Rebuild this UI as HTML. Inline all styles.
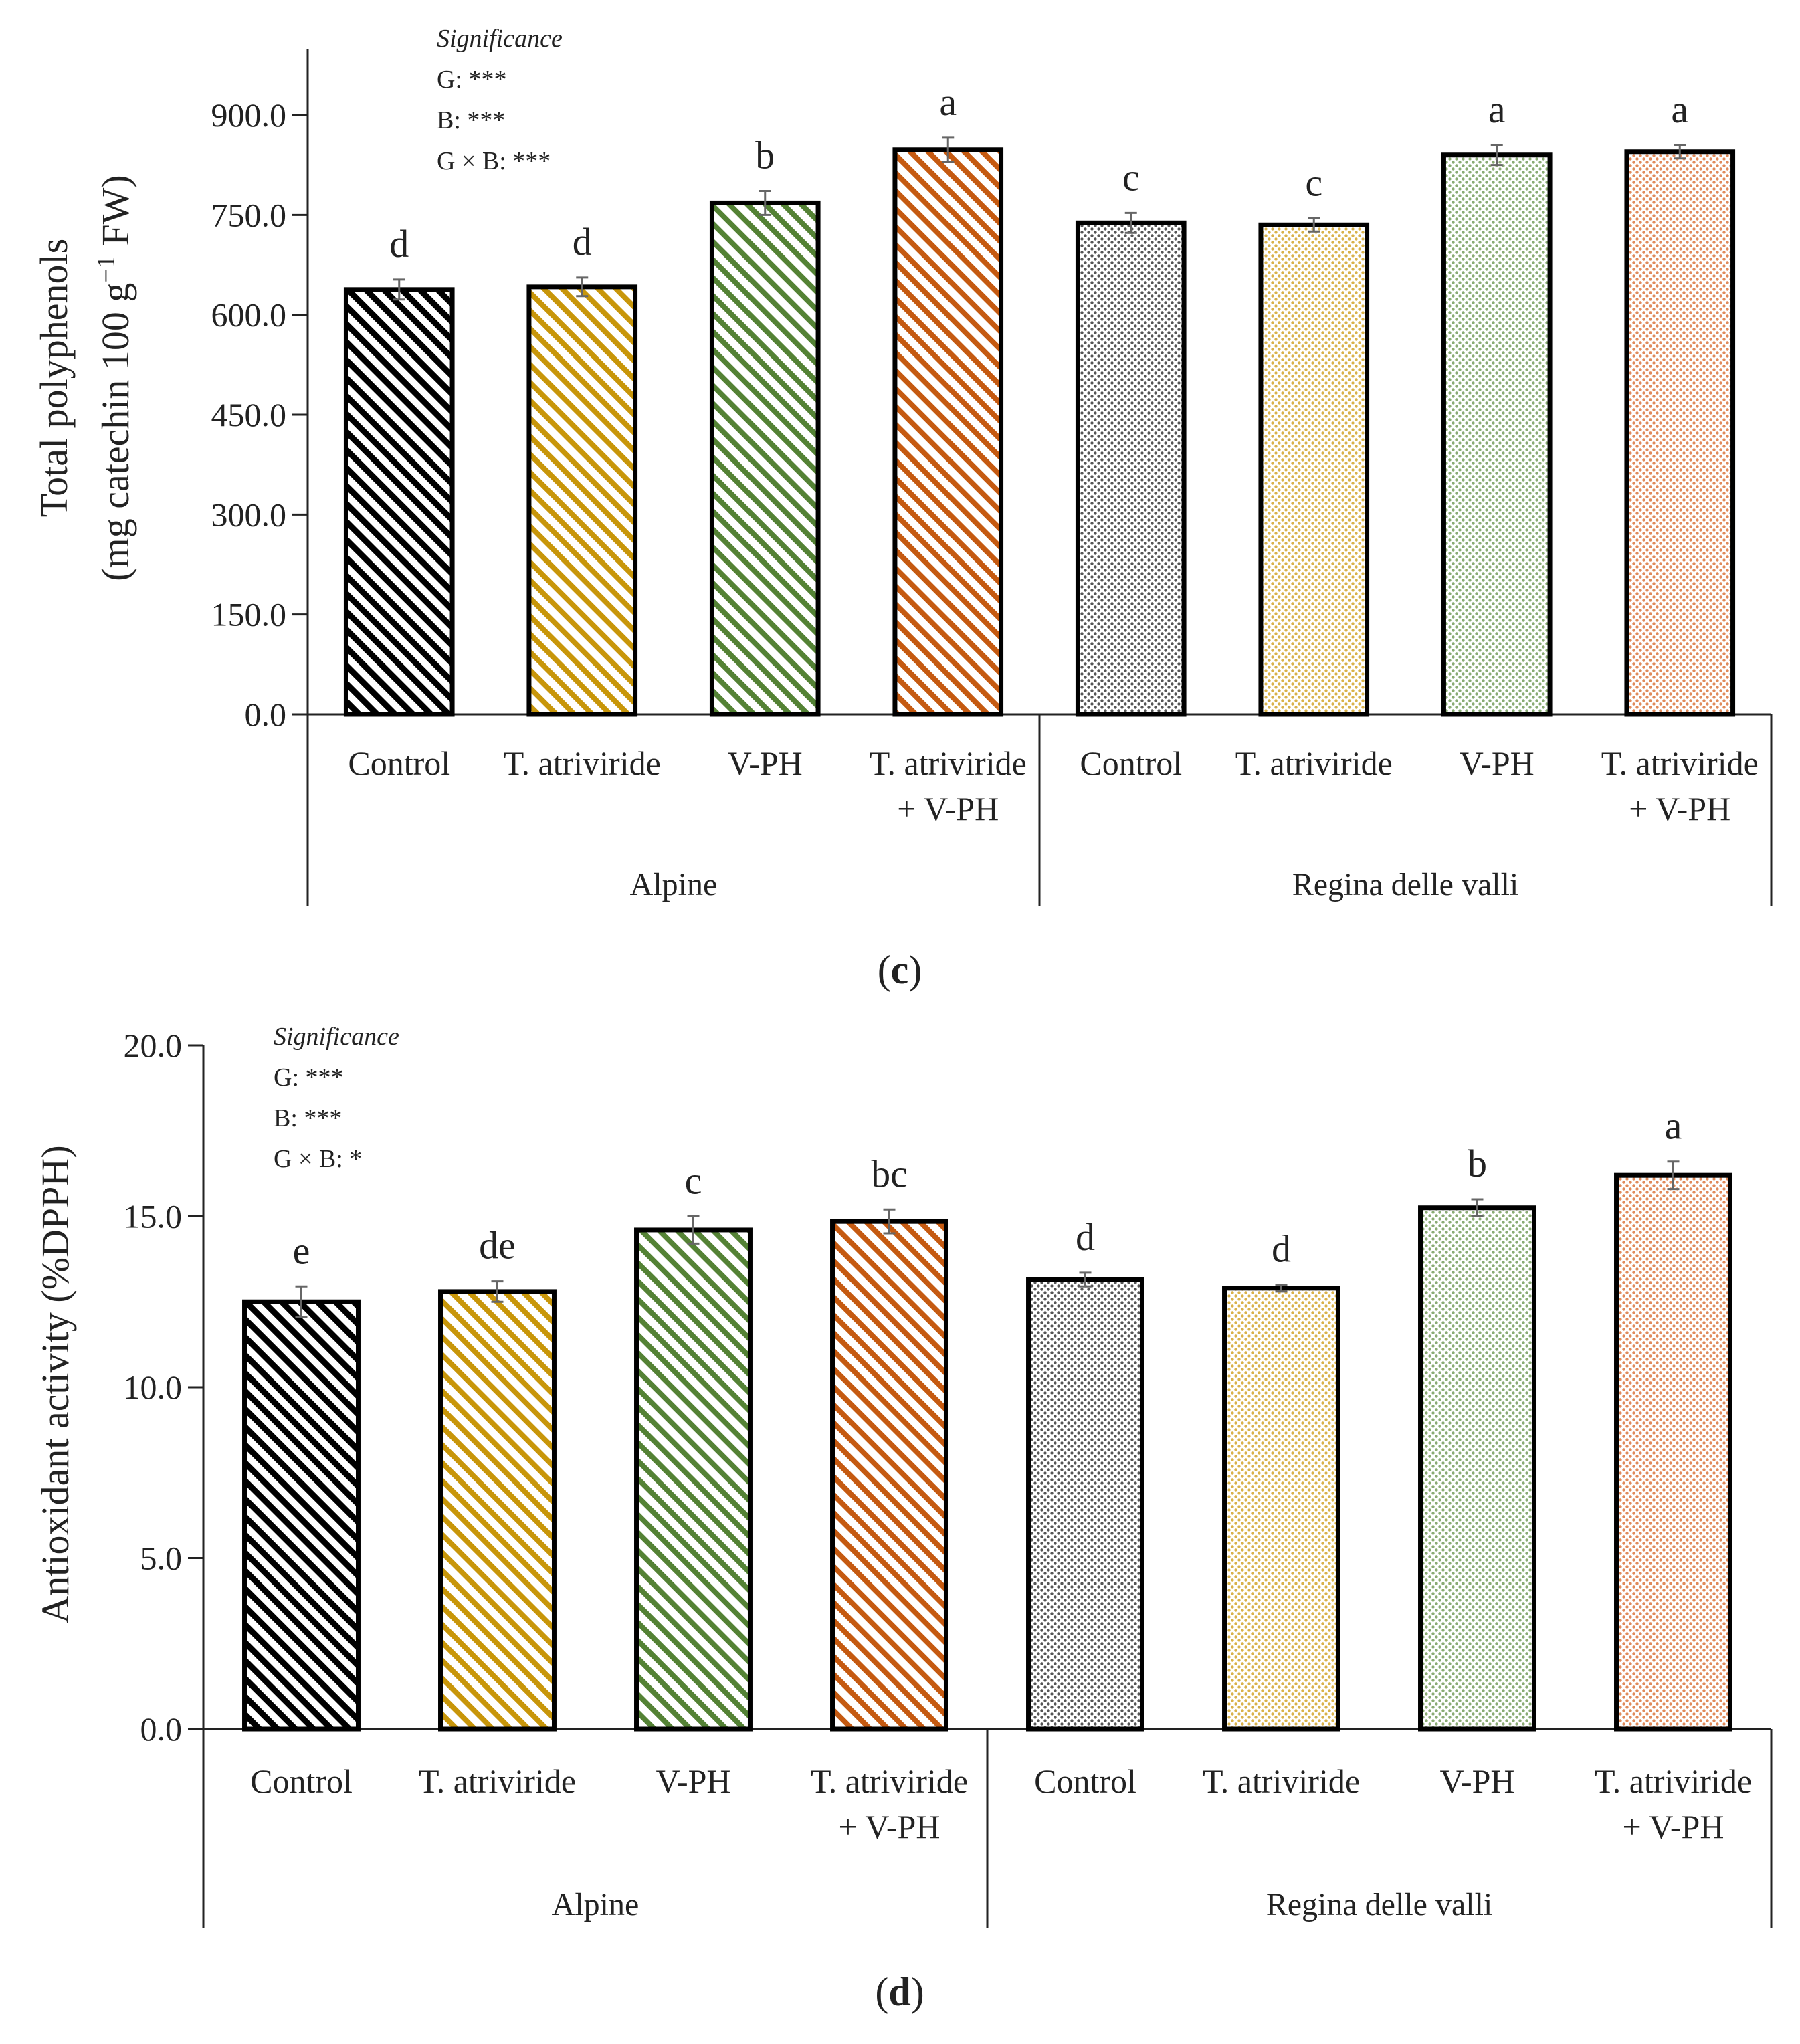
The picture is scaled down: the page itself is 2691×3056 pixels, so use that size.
<!DOCTYPE html>
<html><head><meta charset="utf-8"><style>
html,body{margin:0;padding:0;background:#fff;}
svg{display:block;}
text{font-family:"Liberation Serif",serif;fill:#222;}
</style></head>
<body>
<svg id="fig" width="2691" height="3056" viewBox="0 0 2691 3056" xmlns="http://www.w3.org/2000/svg">
<defs>
  <pattern id="st0" patternUnits="userSpaceOnUse" width="19" height="19" patternTransform="rotate(-45)"><rect width="19" height="19" fill="#fff"/><rect width="9" height="19" fill="#000"/></pattern>
  <pattern id="st1" patternUnits="userSpaceOnUse" width="19" height="19" patternTransform="rotate(-45)"><rect width="19" height="19" fill="#fff"/><rect width="8" height="19" fill="#c8960a"/></pattern>
  <pattern id="st2" patternUnits="userSpaceOnUse" width="19" height="19" patternTransform="rotate(-45)"><rect width="19" height="19" fill="#fff"/><rect width="8" height="19" fill="#548235"/></pattern>
  <pattern id="st3" patternUnits="userSpaceOnUse" width="19" height="19" patternTransform="rotate(-45)"><rect width="19" height="19" fill="#fff"/><rect width="8" height="19" fill="#c55a11"/></pattern>
  <pattern id="dt0" patternUnits="userSpaceOnUse" width="10" height="10"><rect width="10" height="10" fill="#fff"/><circle cx="2.5" cy="2.5" r="2.2" fill="#555"/><circle cx="7.5" cy="7.5" r="2.2" fill="#555"/></pattern>
  <pattern id="dt1" patternUnits="userSpaceOnUse" width="10" height="10"><rect width="10" height="10" fill="#fff"/><circle cx="2.5" cy="2.5" r="2.2" fill="#d9b24a"/><circle cx="7.5" cy="7.5" r="2.2" fill="#d9b24a"/></pattern>
  <pattern id="dt2" patternUnits="userSpaceOnUse" width="10" height="10"><rect width="10" height="10" fill="#fff"/><circle cx="2.5" cy="2.5" r="2.2" fill="#8aab74"/><circle cx="7.5" cy="7.5" r="2.2" fill="#8aab74"/></pattern>
  <pattern id="dt3" patternUnits="userSpaceOnUse" width="10" height="10"><rect width="10" height="10" fill="#fff"/><circle cx="2.5" cy="2.5" r="2.2" fill="#e08a5a"/><circle cx="7.5" cy="7.5" r="2.2" fill="#e08a5a"/></pattern>
</defs>
<g id="chartC"></g>
<g id="chartD"></g>
<text x="1345" y="1470" font-size="60" text-anchor="middle">(<tspan font-weight="bold">c</tspan>)</text>
<text x="1345" y="2998" font-size="60" text-anchor="middle">(<tspan font-weight="bold">d</tspan>)</text>
</svg>
<script>
const categories = ["Control","T. atriviride","V-PH","T. atriviride|+ V-PH","Control","T. atriviride","V-PH","T. atriviride|+ V-PH"];
const groups = ["Alpine","Regina delle valli"];
const polyValues = [638,642,768,848,738,735,840,845];
const polyErrors = [15,14,18,18,15,10,15,10];
const polyLetters = ["d","d","b","a","c","c","a","a"];
const polyTicks = ["0.0","150.0","300.0","450.0","600.0","750.0","900.0"];
const antiValues = [12.5,12.8,14.6,14.85,13.15,12.9,15.25,16.2];
const antiErrors = [0.45,0.3,0.4,0.35,0.2,0.1,0.25,0.4];
const antiLetters = ["e","de","c","bc","d","d","b","a"];
const antiTicks = ["0.0","5.0","10.0","15.0","20.0"];
const fills = ["url(#st0)","url(#st1)","url(#st2)","url(#st3)","url(#dt0)","url(#dt1)","url(#dt2)","url(#dt3)"];
const NS="http://www.w3.org/2000/svg";
function mk(parent,tag,attrs,txt){const e=document.createElementNS(NS,tag);for(const k in attrs)e.setAttribute(k,attrs[k]);if(txt!==undefined)e.textContent=txt;parent.appendChild(e);return e;}

function draw(g,cfg){
  const {x0,x1,y0,yTop,axisTop,bottom,maxV,ticks,values,errors,letters,sig,title,titleX,titleY,catY,grpY}=cfg;
  const n=categories.length, slot=(x1-x0)/n, bw=slot*0.58;
  const yS=v=>y0-(v/maxV)*(y0-yTop);
  const xS=i=>x0+slot*(i+0.5);
  let l=mk(g,'line',{x1:x0,y1:axisTop,x2:x0,y2:bottom,stroke:'#222','stroke-width':3});
  
  
  ticks.forEach(t=>{
    const v=parseFloat(t),y=yS(v);
    mk(g,'line',{x1:x0-23,y1:y,x2:x0,y2:y,stroke:'#222','stroke-width':3});
    const tx=mk(g,'text',{x:x0-32,y:y+17,'font-size':50,'text-anchor':'end'},t);
    
    
  });
  const xa=mk(g,'line',{x1:x0-23,y1:y0,x2:x1,y2:y0,stroke:'#222','stroke-width':3});
  
  
  [x0+slot*4,x1].forEach(x=>mk(g,'line',{x1:x,y1:y0,x2:x,y2:bottom,stroke:'#222','stroke-width':3}));
  values.forEach((v,i)=>{
    const cx=xS(i), yt=yS(v);
    const r=mk(g,'rect',{x:cx-bw/2,y:yt,width:bw,height:y0-yt,fill:fills[i],stroke:'#000','stroke-width':7});
    
    
    const ya=yS(v+errors[i]), yb=yS(v-errors[i]);
    mk(g,'line',{x1:cx,y1:ya,x2:cx,y2:yb,stroke:'#666','stroke-width':3});
    mk(g,'line',{x1:cx-9,y1:ya,x2:cx+9,y2:ya,stroke:'#666','stroke-width':3});
    mk(g,'line',{x1:cx-9,y1:yb,x2:cx+9,y2:yb,stroke:'#666','stroke-width':3});
    const lt=mk(g,'text',{x:cx,y:ya-34,'font-size':58,'text-anchor':'middle'},letters[i]);
    
    
    const parts=categories[i].split('|');
    parts.forEach((p,j)=>{
      const ct=mk(g,'text',{x:cx,y:catY+j*68,'font-size':50,'text-anchor':'middle'},p);
      
      
    });
  });
  groups.forEach((gr,k)=>{
    const gt=mk(g,'text',{x:x0+slot*(2+4*k),y:grpY,'font-size':48,'text-anchor':'middle'},gr);
    
    
  });
  sig.lines.forEach((s,j)=>{
    const st=mk(g,'text',{x:sig.x,y:sig.y+j*sig.dy,'font-size':38,'font-style':j==0?'italic':'normal'},s);
    
    
  });
  const tt=mk(g,'text',{transform:`translate(${titleX},${titleY}) rotate(-90)`,'font-size':58,'text-anchor':'middle'});
  
  
  title.forEach((t,j)=>{const ts=mk(tt,'tspan',{x:0,dy:j==0?0:92});ts.innerHTML=t;});
}
draw(document.getElementById('chartC'),{x0:460,x1:2648,y0:1068,yTop:172,axisTop:74,bottom:1355,maxV:900,ticks:polyTicks,values:polyValues,errors:polyErrors,letters:polyLetters,
  sig:{x:653,y:70,dy:61,lines:["Significance","G: ***","B: ***","G × B: ***"]},
  title:["Total polyphenols","(mg catechin 100 g<tspan baseline-shift=\"super\" font-size=\"38\">−1</tspan> FW)"],titleX:100,titleY:565,catY:1158,grpY:1338});
draw(document.getElementById('chartD'),{x0:304,x1:2648,y0:2585,yTop:1563,axisTop:1563,bottom:2882,maxV:20,ticks:antiTicks,values:antiValues,errors:antiErrors,letters:antiLetters,
  sig:{x:409,y:1562,dy:61,lines:["Significance","G: ***","B: ***","G × B: *"]},
  title:["Antioxidant activity (%DPPH)"],titleX:102,titleY:2070,catY:2680,grpY:2863});
</script>
</body></html>
